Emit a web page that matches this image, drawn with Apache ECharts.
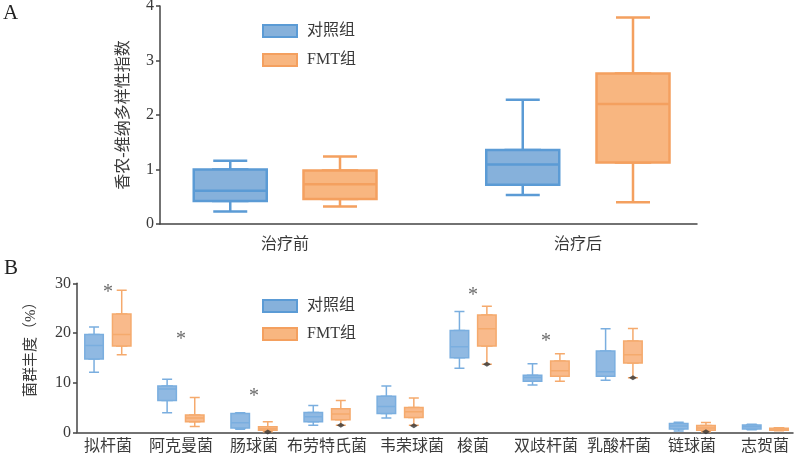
<!DOCTYPE html>
<html><head><meta charset="utf-8">
<script src="https://cdn.jsdelivr.net/npm/echarts@6/dist/echarts.min.js"></script>
<style>html,body{margin:0;padding:0;background:#fff}#c{width:798px;height:458px}</style>
</head><body><div id="c"></div>
<script>
// ---------- data ----------
const groupsA = ['治疗前', '治疗后'];
// each entry: [min, Q1, median, Q3, max]
const ctrlA = [[0.23, 0.42, 0.61, 1.00, 1.16], [0.53, 0.72, 1.09, 1.36, 2.28]];
const fmtA  = [[0.32, 0.46, 0.73, 0.98, 1.24], [0.40, 1.13, 2.20, 2.76, 3.79]];
const ticksA = [0, 1, 2, 3, 4];

const taxaB = ['拟杆菌', '阿克曼菌', '肠球菌', '布劳特氏菌', '韦荣球菌', '梭菌', '双歧杆菌', '乳酸杆菌', '链球菌', '志贺菌'];
const ctrlB = [
  [12.1, 14.75, 17.5, 19.7, 21.2],
  [3.95, 6.4, 8.7, 9.3, 10.7],
  [0.6, 0.85, 1.9, 3.8, 3.95],
  [1.4, 2.1, 3.15, 4.0, 5.4],
  [2.9, 3.8, 5.2, 7.25, 9.3],
  [12.9, 15.0, 17.2, 20.5, 24.3],
  [9.5, 10.3, 11.05, 11.5, 13.8],
  [10.5, 11.3, 12.2, 16.35, 20.85],
  [0.25, 0.65, 1.27, 1.75, 2.0],
  [0.5, 0.65, 1.1, 1.45, 1.6]
];
const fmtB = [
  [15.6, 17.4, 19.7, 23.8, 28.6],
  [1.15, 2.1, 2.9, 3.5, 7.0],
  [0.1, 0.4, 0.7, 1.1, 2.1],
  [1.4, 2.55, 3.7, 4.75, 6.4],
  [1.4, 3.0, 4.15, 5.0, 6.9],
  [13.7, 17.4, 20.85, 23.6, 25.4],
  [10.3, 11.3, 12.4, 14.35, 15.8],
  [11.0, 13.95, 15.6, 18.4, 20.9],
  [0.1, 0.4, 0.85, 1.35, 1.95],
  [0.3, 0.4, 0.6, 0.8, 0.9]
];
const ticksB = [0, 10, 20, 30];
const outlierTaxa = ['肠球菌', '布劳特氏菌', '韦荣球菌', '梭菌', '乳酸杆菌', '链球菌'];
const outlierVals = [0.05, 1.4, 1.3, 13.7, 11.0, 0.1];
const starTaxa = ['拟杆菌', '阿克曼菌', '肠球菌', '梭菌', '双歧杆菌'];
const starVals = [29.05, 19.6, 8.1, 28.6, 19.2];
const seriesNames = ['对照组', 'FMT组'];

// ---------- styling / layout ----------
const FONT = "'Liberation Serif', 'Noto Sans CJK SC', serif";
const TXT = '#3a3a3a';
const AXC = '#444';
const blueA = { color: '#86b1db', borderColor: '#5b9bd5', borderWidth: 2.5 };
const orangeA = { color: '#f8b680', borderColor: '#f4a05f', borderWidth: 2.5 };
const blueB = { color: '#90b9e2', borderColor: '#7aaedf', borderWidth: 1.5 };
const orangeB = { color: '#f9ba8b', borderColor: '#f5aa6d', borderWidth: 1.5 };
// horizontal nudge (px) of individual tick labels, as in the original typesetting
const labelNudgeB = { '韦荣球菌': 12 };

const topA = 6, hA = 218;
const topB = 283.3, hB = 149;

const grids = [
  // panel A
  { left: 160, top: topA, width: 537, height: hA },     // 0 visible axes
  { left: 138.5, top: topA, width: 586, height: hA },   // 1 labels
  { left: 84, top: topA, width: 585, height: hA },      // 2 ctrl wide
  { left: 84, top: topA, width: 585, height: hA },      // 3 ctrl narrow
  { left: 193.5, top: topA, width: 586, height: hA },   // 4 fmt wide
  { left: 193.5, top: topA, width: 586, height: hA },   // 5 fmt narrow
  // panel B
  { left: 77, top: topB, width: 716, height: hB },      // 6 visible axes
  { left: 71.5, top: topB, width: 730, height: hB },    // 7 labels
  { left: 57.5, top: topB, width: 730.8, height: hB },  // 8 ctrl wide
  { left: 57.5, top: topB, width: 730.8, height: hB },  // 9 ctrl narrow
  { left: 85.2, top: topB, width: 730.3, height: hB },  // 10 fmt wide
  { left: 85.2, top: topB, width: 730.3, height: hB }   // 11 fmt narrow
].map(g => Object.assign({ containLabel: false, outerBoundsMode: 'none' }, g));

const xAxes = [], yAxes = [];
function hiddenX(i, cats) {
  xAxes.push({ gridIndex: i, type: 'category', data: cats, show: false });
}
function hiddenY(i, ticks) {
  yAxes.push({ gridIndex: i, type: 'value', min: ticks[0], max: ticks[ticks.length - 1], show: false });
}
function visibleAxes(i, ticks, name, nameGap, namePad, nameSize) {
  xAxes.push({
    gridIndex: i, type: 'value', min: 0, max: 1,
    axisLine: { show: true, lineStyle: { color: AXC, width: 1.5 } },
    axisTick: { show: false }, axisLabel: { show: false }, splitLine: { show: false }
  });
  yAxes.push({
    gridIndex: i, type: 'value', min: ticks[0], max: ticks[ticks.length - 1], interval: ticks[1] - ticks[0],
    axisLine: { show: true, lineStyle: { color: AXC, width: 1.5 } },
    axisTick: { show: true, length: 4, lineStyle: { color: AXC, width: 1.5 } },
    axisLabel: { color: TXT, fontFamily: FONT, fontSize: 16, margin: 6 },
    splitLine: { show: false },
    name: name, nameLocation: 'middle', nameGap: nameGap,
    nameTextStyle: { color: TXT, fontFamily: FONT, fontSize: nameSize, padding: namePad }
  });
}
function labelAxes(i, cats, ticks, margin, size, nudge) {
  xAxes.push({
    gridIndex: i, type: 'category',
    data: cats.map(c => (nudge && nudge[c]) ? { value: c, textStyle: { padding: [0, 0, 0, 2 * nudge[c]] } } : c),
    axisLine: { show: false }, axisTick: { show: false },
    axisLabel: { color: TXT, fontFamily: FONT, fontSize: size, margin: margin, interval: 0 }
  });
  hiddenY(i, ticks);
}

// panel A axes
visibleAxes(0, ticksA, '香农-维纳多样性指数', 28, [0, 0, 0, 0], 16);
labelAxes(1, groupsA, ticksA, 13, 16, null);
for (let i = 2; i <= 5; i++) { hiddenX(i, groupsA); hiddenY(i, ticksA); }
// panel B axes
visibleAxes(6, ticksB, '菌群丰度（%）', 38, [0, 0, 0, 24], 15);
labelAxes(7, taxaB, ticksB, 6, 16, labelNudgeB);
for (let i = 8; i <= 11; i++) { hiddenX(i, taxaB); hiddenY(i, ticksB); }

const boxOnly = d => d.map(v => [v[1], v[1], v[2], v[3], v[3]]);
function box(name, data, gi, w, style, z) {
  return {
    type: 'boxplot', name: name, xAxisIndex: gi, yAxisIndex: gi,
    data: data, boxWidth: [w, w], itemStyle: style, z: z,
    emphasis: { disabled: true }, silent: true, animation: false
  };
}

const series = [
  // panel A: narrow series give whiskers with short caps, wide series give the box
  box(seriesNames[0], ctrlA, 3, 34, blueA, 2),
  box(seriesNames[0], boxOnly(ctrlA), 2, 73, blueA, 3),
  box(seriesNames[1], fmtA, 5, 34, orangeA, 2),
  box(seriesNames[1], boxOnly(fmtA), 4, 73, orangeA, 3),
  // panel B
  box(seriesNames[0], ctrlB, 9, 10, blueB, 2),
  box(seriesNames[0], boxOnly(ctrlB), 8, 18.5, blueB, 3),
  box(seriesNames[1], fmtB, 11, 10, orangeB, 2),
  box(seriesNames[1], boxOnly(fmtB), 10, 18.5, orangeB, 3),
  {
    type: 'scatter', name: 'outliers', xAxisIndex: 10, yAxisIndex: 10,
    data: outlierTaxa.map((t, i) => [t, outlierVals[i]]),
    symbol: 'diamond', symbolSize: [8, 5], itemStyle: { color: '#333' }, z: 5,
    silent: true, animation: false
  },
  {
    type: 'scatter', name: 'stars', xAxisIndex: 7, yAxisIndex: 7,
    data: starTaxa.map((t, i) => [t, starVals[i]]),
    symbol: 'circle', symbolSize: 1, itemStyle: { color: 'rgba(0,0,0,0)' }, z: 5,
    label: { show: true, formatter: '*', position: 'inside', color: '#444', fontFamily: FONT, fontSize: 20, offset: [0, 5] },
    silent: true, animation: false
  }
];

function legend(top, gap) {
  return {
    orient: 'vertical', left: 262, top: top, padding: 0, itemWidth: 34, itemHeight: 12, itemGap: gap,
    selectedMode: false, icon: 'rect',
    textStyle: { color: TXT, fontFamily: FONT, fontSize: 16, padding: [0, 0, 0, 5] },
    data: [
      { name: seriesNames[0], itemStyle: { color: '#86b1db', borderColor: '#5b9bd5', borderWidth: 2 } },
      { name: seriesNames[1], itemStyle: { color: '#f8b680', borderColor: '#f4a05f', borderWidth: 2 } }
    ]
  };
}

const titleStyle = { fontFamily: FONT, fontSize: 21, fontWeight: 'normal', color: '#222' };
const option = {
  backgroundColor: '#fff',
  animation: false,
  title: [
    { text: 'A', left: 3, top: 3, padding: 0, textStyle: titleStyle },
    { text: 'B', left: 4, top: 258, padding: 0, textStyle: titleStyle }
  ],
  legend: [legend(23, 13), legend(298, 12)],
  grid: grids,
  xAxis: xAxes,
  yAxis: yAxes,
  series: series
};

const chart = echarts.init(document.getElementById('c'), null, { renderer: 'canvas' });
chart.setOption(option);
</script>
</body></html>
